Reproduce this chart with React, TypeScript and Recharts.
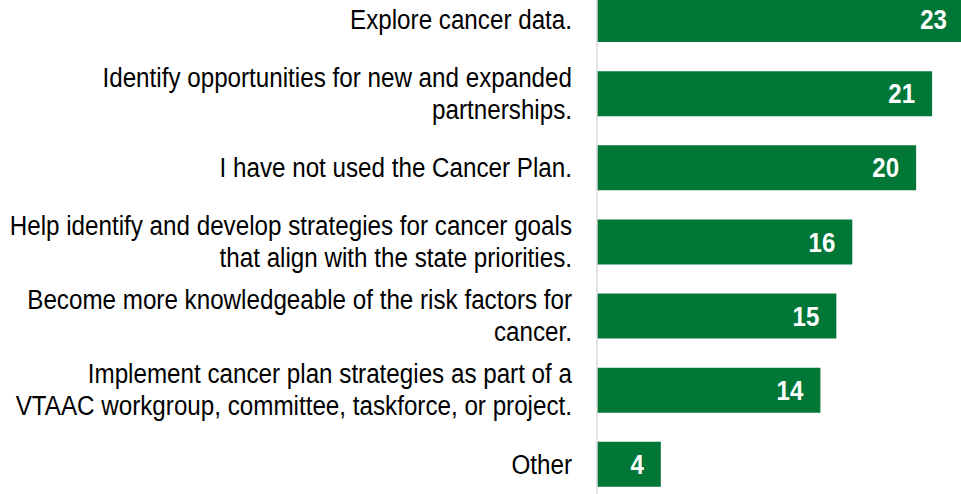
import { BarChart, Bar, XAxis, YAxis, LabelList } from "recharts";

const categories = [
  "Explore cancer data.",
  "Identify opportunities for new and expanded\npartnerships.",
  "I have not used the Cancer Plan.",
  "Help identify and develop strategies for cancer goals\nthat align with the state priorities.",
  "Become more knowledgeable of the risk factors for\ncancer.",
  "Implement cancer plan strategies as part of a\nVTAAC workgroup, committee, taskforce, or project.",
  "Other",
];

const responses = [23, 21, 20, 16, 15, 14, 4];

const data = categories.map((name, i) => ({ name, value: responses[i] }));

// no narrow font installed, so squeeze Liberation Sans horizontally
const FONT = "'Liberation Sans', Arial, sans-serif";
const NARROW = 0.865;

function CategoryTick(props: any) {
  const { x, y, payload } = props;
  const lines: string[] = String(payload.value).split("\n");
  const lh = 32;
  return (
    <g>
      {lines.map((line, i) => (
        <text
          key={i}
          transform={`translate(${x},${y + (i - (lines.length - 1) / 2) * lh}) scale(${NARROW},1)`}
          x={0}
          y={0}
          textAnchor="end"
          dominantBaseline="central"
          fill="#000"
          fontSize={28}
          fontFamily={FONT}
        >
          {line}
        </text>
      ))}
    </g>
  );
}

function ValueLabel(props: any) {
  const { x, y, width, height, value } = props;
  const tx = x + width - 17;
  const ty = y + height / 2;
  return (
    <text
      transform={`translate(${tx},${ty}) scale(0.86,1)`}
      x={0}
      y={0}
      textAnchor="end"
      dominantBaseline="central"
      fill="#fff"
      fontSize={28}
      fontWeight="bold"
      fontFamily={FONT}
    >
      {value}
    </text>
  );
}

export default function App() {
  return (
    <div
      style={{
        position: "fixed",
        left: 0,
        top: 0,
        width: 961,
        height: 494,
        overflow: "hidden",
        background: "#fff",
      }}
    >
      <div style={{ position: "absolute", left: 0, top: -18 }}>
        <BarChart
          width={964}
          height={519}
          data={data}
          layout="vertical"
          margin={{ top: 0, right: 0, left: 0, bottom: 0 }}
        >
          <XAxis type="number" domain={[0, 23]} hide />
          <YAxis
            type="category"
            dataKey="name"
            width={597}
            axisLine={{ stroke: "#d9d9d9", strokeWidth: 1.5 }}
            tickLine={false}
            tickSize={0}
            tickMargin={25}
            tick={<CategoryTick />}
            interval={0}
          />
          <Bar dataKey="value" fill="#007637" barSize={45} isAnimationActive={false}>
            <LabelList dataKey="value" content={<ValueLabel />} />
          </Bar>
        </BarChart>
      </div>
    </div>
  );
}
